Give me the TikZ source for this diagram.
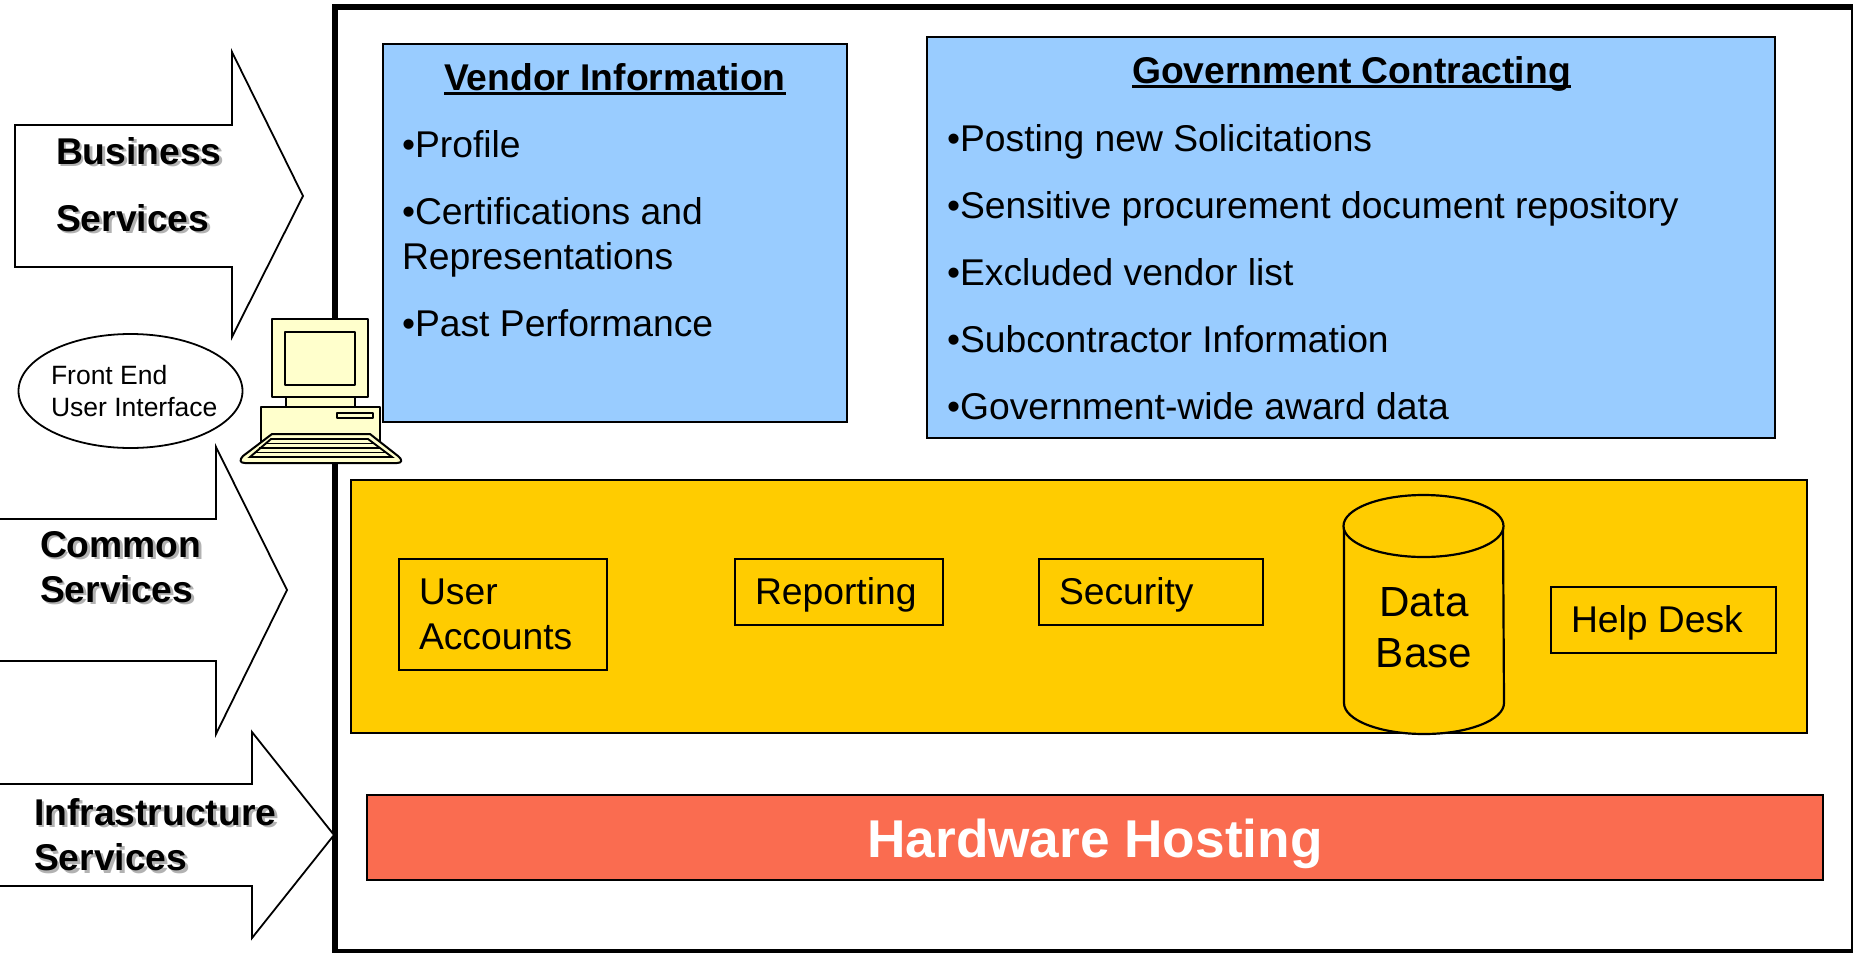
\documentclass[tikz,border=0pt]{standalone}
\usepackage{fontspec}
\setmainfont{Liberation Sans}
\usetikzlibrary{shapes.geometric}
\definecolor{panelblue}{HTML}{99CCFF}
\definecolor{panelgold}{HTML}{FFCC00}
\definecolor{panelred}{HTML}{FA6C50}
\definecolor{pcbeige}{HTML}{FFFFCC}
\newcommand{\fs}[1]{\fontsize{#1}{#1}\selectfont}
\newcommand{\ultext}[1]{\setbox0\hbox{#1}\rlap{\raisebox{-5pt}{\rule{\wd0}{2.8pt}}}\box0}
\newcommand{\shadowed}[1]{\leavevmode\rlap{\raisebox{-3pt}{\kern3pt\textcolor{black!30}{#1}}}#1}
\tikzset{
 x=1bp,y=-1bp,
 txt/.style={anchor=base west,inner sep=0pt,outer sep=0pt,font=\fs{37.4}},
 ttl/.style={txt,font=\fs{37.4}\bfseries},
 svc/.style={txt,font=\fs{37.4}\bfseries},
 arrowshape/.style={draw=black,fill=white,line width=1.8pt,miter limit=10},
 panel/.style={draw=black,line width=2pt},
 inbox/.style={draw=black,line width=2.2pt},
 pc/.style={draw=black,fill=pcbeige,line width=2pt,line join=round},
 keyline/.style={draw=black,line width=1.9pt},
}
\begin{document}
\begin{tikzpicture}
\useasboundingbox (0,0) rectangle (1853,952);
% frame
\draw[line width=1.8pt] (1852,6) -- (1852,951);
\draw[line width=5.6pt] (1853,7) -- (335,7) -- (335,952) -- (1853,952);
% arrows
\draw[arrowshape] (15,125) -- (232,125) -- (232,52) -- (303,196) -- (232,337) -- (232,267) -- (15,267) -- cycle;
\draw[arrowshape] (-5,519) -- (216,519) -- (216,447) -- (287,590) -- (216,734) -- (216,661) -- (-5,661) -- cycle;
\draw[arrowshape] (-5,784) -- (252,784) -- (252,732) -- (334,835) -- (252,938) -- (252,886) -- (-5,886) -- cycle;
% panels
\draw[panel,fill=panelblue] (383,44) rectangle (847,422);
\draw[panel,fill=panelblue] (927,37) rectangle (1775,438);
\draw[panel,fill=panelgold] (351,480) rectangle (1807,733);
\draw[panel,fill=panelred] (367,795) rectangle (1823,880);
% panel text
\node[ttl] (vtitle) at (444,90) {\ultext{Vendor Information}};
\node[txt] (v1) at (402,157) {•Profile};
\node[txt] (v2) at (402,224) {•Certifications and};
\node[txt] (v3) at (402,269) {Representations};
\node[txt] (v4) at (402,336) {•Past Performance};
\node[ttl] (gtitle) at (1132,83) {\ultext{Government Contracting}};
\node[txt] (g1) at (947,151) {•Posting new Solicitations};
\node[txt] (g2) at (947,218) {•Sensitive procurement document repository};
\node[txt] (g3) at (947,285) {•Excluded vendor list};
\node[txt] (g4) at (947,352) {•Subcontractor Information};
\node[txt] (g5) at (947,419) {•Government-wide award data};
% inner boxes
\draw[inbox] (399,559) rectangle (607,670);
\node[txt] (ua1) at (419,604.5) {User};
\node[txt] (ua2) at (419,649.5) {Accounts};
\draw[inbox] (735,559) rectangle (943,625);
\node[txt] (rep) at (755,604) {Reporting};
\draw[inbox] (1039,559) rectangle (1263,625);
\node[txt] (sec) at (1059,604) {Security};
\draw[inbox] (1551,587) rectangle (1776,653);
\node[txt] (help) at (1571,632) {Help Desk};
% database
\draw[inbox,fill=panelgold] (1344,526) -- (1344,703) arc[start angle=180,end angle=0,x radius=80,y radius=31] -- (1503,526);
\draw[inbox,fill=panelgold] (1423.5,526) ellipse[x radius=80,y radius=31];
\node[txt,font=\fs{42.3},anchor=base] (db1) at (1424,616) {Data};
\node[txt,font=\fs{42.3},anchor=base] (db2) at (1424,667) {Base};
% hardware
\node[txt,font=\fs{53.4}\bfseries,text=white,anchor=base] (hw) at (1095,857) {Hardware Hosting};
% service labels
\node[svc] (b1) at (56,164) {\shadowed{Business}};
\node[svc] (b2) at (56,231) {\shadowed{Services}};
\node[svc] (c1) at (40,557) {\shadowed{Common}};
\node[svc] (c2) at (40,602) {\shadowed{Services}};
\node[svc] (i1) at (34,825) {\shadowed{Infrastructure}};
\node[svc] (i2) at (34,870) {\shadowed{Services}};
% front end
\node[draw=black,fill=white,line width=1.8pt,ellipse,minimum width=224bp,minimum height=114bp,inner sep=0pt] (fe) at (130.5,391) {};
\node[txt,font=\fs{26.6}] (fe1) at (51,384) {Front End};
\node[txt,font=\fs{26.6}] (fe2) at (51,416) {User Interface};
% computer
\draw[pc] (286,397) rectangle (355,407);
\draw[pc] (261,407) rectangle (380,442);
\draw[pc] (337,413) rectangle (373,418);
\draw[pc] (272,319) rectangle (368,397);
\draw[pc] (285,332) rectangle (355,385);
\draw[pc] (272,434) -- (370,434) -- (398,456) .. controls (403,460) and (402,463) .. (397,463) -- (245,463) .. controls (240,463) and (239,460) .. (243,456) -- cycle;
\draw[keyline] (271,439) -- (368,439) -- (392,457) -- (250,457) -- cycle;
\draw[keyline] (265,443.5) -- (374,443.5);
\draw[keyline] (259,448) -- (380,448);
\draw[keyline] (254,452.5) -- (386,452.5);
\end{tikzpicture}
\end{document}
